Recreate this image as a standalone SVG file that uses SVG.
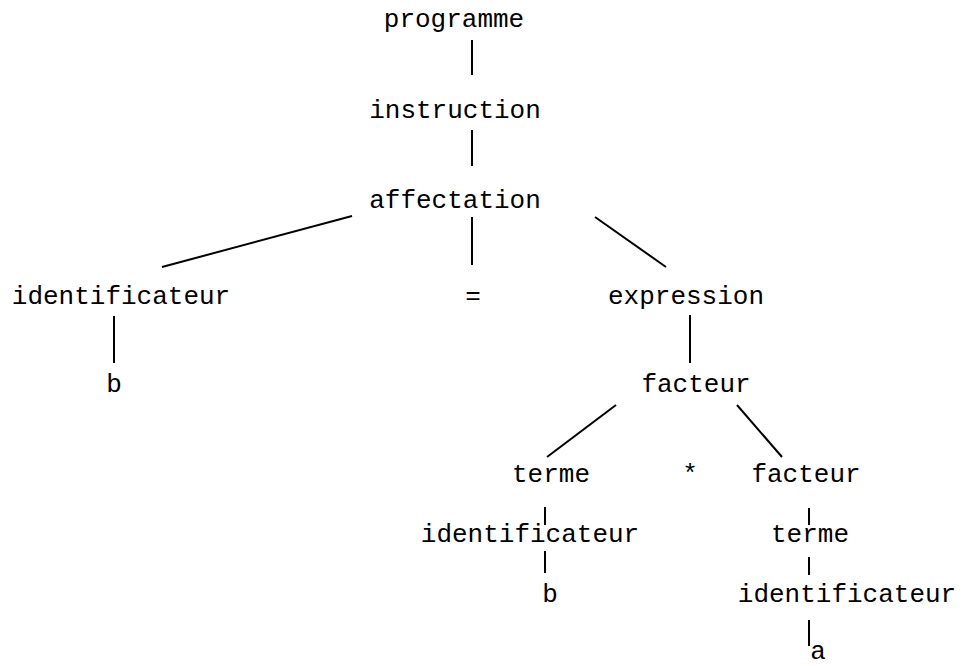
<svg xmlns="http://www.w3.org/2000/svg" width="964" height="666" viewBox="0 0 964 666">
<style>
text{font-family:"Liberation Mono","Courier New",monospace;font-size:26px;fill:#000;text-anchor:middle}
.c line{stroke:#000;stroke-width:2}
</style>
<rect width="964" height="666" fill="#fff"/>
<g class="c" id="connectors">
<line x1="472" y1="40" x2="472" y2="75"/>
<line x1="472" y1="130" x2="472" y2="166"/>
<line x1="352" y1="216" x2="162" y2="267"/>
<line x1="472" y1="217" x2="472" y2="265"/>
<line x1="595" y1="217" x2="666" y2="267"/>
<line x1="114" y1="316" x2="114" y2="363"/>
<line x1="690" y1="315" x2="690" y2="363"/>
<line x1="616" y1="405" x2="547" y2="457"/>
<line x1="737" y1="405" x2="782" y2="457"/>
<line x1="545" y1="507" x2="545" y2="525"/>
<line x1="545" y1="551" x2="545" y2="573"/>
<line x1="809" y1="508" x2="809" y2="525"/>
<line x1="809" y1="557" x2="809" y2="575"/>
<line x1="809" y1="620" x2="809" y2="646"/>
</g>
<g id="n-programme"><text x="454" y="27">programme</text></g>
<g id="n-instruction"><text x="455" y="118">instruction</text></g>
<g id="n-affectation"><text x="455" y="208">affectation</text></g>
<g id="n-identificateur1"><text x="121" y="304">identificateur</text></g>
<g id="n-eq"><text x="473" y="304">=</text></g>
<g id="n-expression"><text x="686" y="304">expression</text></g>
<g id="n-b1"><text x="114" y="392">b</text></g>
<g id="n-facteur1"><text x="696" y="392">facteur</text></g>
<g id="n-terme1"><text x="551" y="482">terme</text></g>
<g id="n-star"><text x="690" y="482">*</text></g>
<g id="n-facteur2"><text x="806" y="482">facteur</text></g>
<g id="n-identificateur2"><text x="530" y="542">identificateur</text></g>
<g id="n-terme2"><text x="810" y="542">terme</text></g>
<g id="n-b2"><text x="550" y="602">b</text></g>
<g id="n-identificateur3"><text x="847" y="602">identificateur</text></g>
<g id="n-a"><text x="818" y="659">a</text></g>
</svg>
